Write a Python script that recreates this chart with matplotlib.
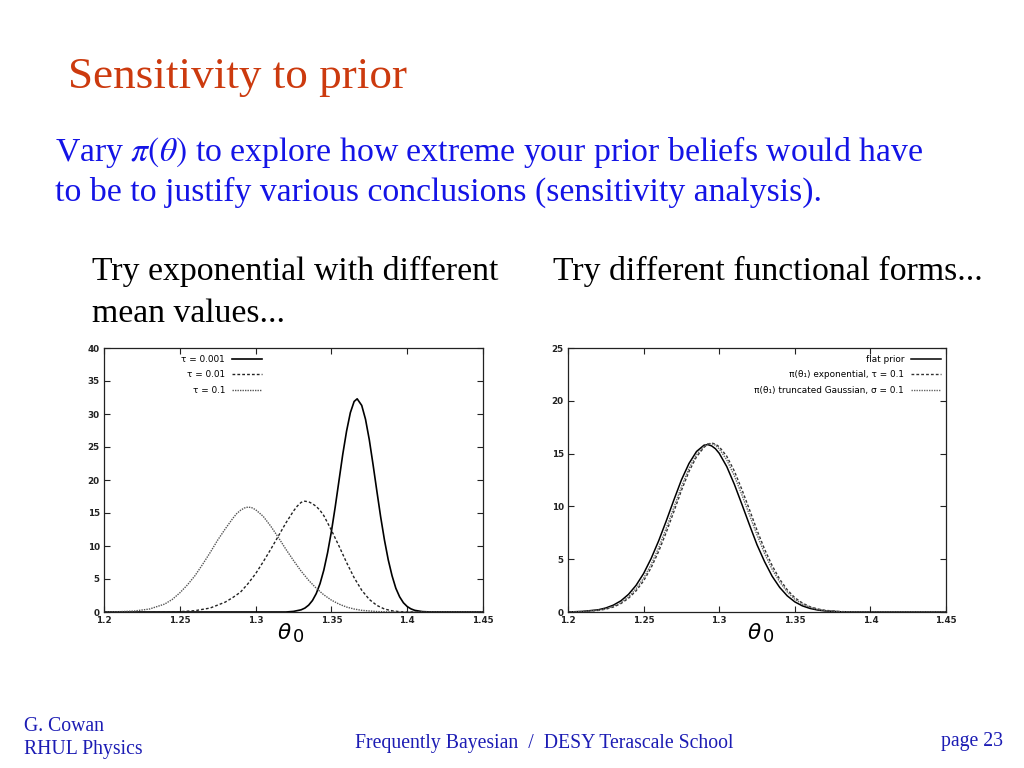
import matplotlib
matplotlib.use("Agg")
import matplotlib.pyplot as plt

# ---------------- data ----------------
# Left panel: exponential priors with different mean values
x_tau0001 = [1.20, 1.32, 1.325, 1.33, 1.3325, 1.335, 1.3375, 1.34, 1.3425, 1.345, 1.3475,
             1.35, 1.3525, 1.355, 1.3575, 1.36, 1.3625, 1.365, 1.367, 1.37, 1.3725,
             1.375, 1.3775, 1.38, 1.3825, 1.385, 1.3875, 1.39, 1.3925, 1.395, 1.3975,
             1.40, 1.4025, 1.405, 1.41, 1.415, 1.45]
y_tau0001 = [0.0, 0.0, 0.09, 0.33, 0.59, 1.04, 1.74, 2.79, 4.3, 6.35, 9.0,
             12.2, 15.9, 19.9, 23.9, 27.4, 30.2, 31.9, 32.3, 31.3, 29.2,
             26.1, 22.3, 18.3, 14.4, 10.9, 7.9, 5.5, 3.6, 2.3, 1.4,
             0.83, 0.47, 0.25, 0.06, 0.01, 0.0]

x_tau001 = [1.20, 1.24, 1.25, 1.26, 1.27, 1.28, 1.285, 1.29, 1.295, 1.30, 1.305, 1.31,
            1.315, 1.32, 1.325, 1.3275, 1.33, 1.332, 1.335, 1.3375, 1.34, 1.3425,
            1.345, 1.35, 1.355, 1.36, 1.365, 1.37, 1.375, 1.38, 1.385, 1.39, 1.395,
            1.40, 1.45]
y_tau001 = [0.0, 0.0, 0.05, 0.2, 0.6, 1.5, 2.2, 3.0, 4.3, 5.8, 7.6, 9.5,
            11.5, 13.5, 15.3, 16.05, 16.6, 16.8, 16.7, 16.4, 16.0, 15.4,
            14.6, 12.4, 10.0, 7.5, 5.2, 3.3, 1.9, 1.0, 0.45, 0.18, 0.05,
            0.0, 0.0]

x_tau01 = [1.20, 1.21, 1.22, 1.23, 1.24, 1.245, 1.25, 1.255, 1.26, 1.265, 1.27, 1.275,
           1.28, 1.285, 1.2875, 1.29, 1.2925, 1.295, 1.2975, 1.30, 1.305, 1.31, 1.315,
           1.32, 1.325, 1.33, 1.335, 1.34, 1.345, 1.35, 1.355, 1.36, 1.365, 1.37,
           1.38, 1.39, 1.45]
y_tau01 = [0.0, 0.05, 0.15, 0.45, 1.2, 1.9, 2.9, 4.1, 5.5, 7.2, 9.0, 10.9,
           12.6, 14.2, 14.9, 15.4, 15.75, 15.9, 15.8, 15.5, 14.5, 13.0, 11.3,
           9.5, 7.8, 6.2, 4.8, 3.6, 2.6, 1.8, 1.2, 0.75, 0.45, 0.25,
           0.07, 0.0, 0.0]

# Right panel: different functional forms
x_forms = [1.20, 1.21, 1.22, 1.225, 1.23, 1.235, 1.24, 1.245, 1.25, 1.255,
           1.26, 1.265, 1.27, 1.275, 1.28, 1.285, 1.29, 1.2925, 1.295, 1.2975,
           1.30, 1.305, 1.31, 1.315, 1.32, 1.325, 1.33, 1.335, 1.34, 1.345,
           1.35, 1.355, 1.36, 1.365, 1.37, 1.38, 1.39, 1.40, 1.45]
y_flat = [0.0, 0.06, 0.21, 0.38, 0.65, 1.06, 1.67, 2.52, 3.64, 5.07,
          6.75, 8.63, 10.6, 12.5, 14.06, 15.2, 15.8, 15.85, 15.73, 15.46,
          15.03, 13.77, 12.1, 10.2, 8.26, 6.37, 4.77, 3.39, 2.33, 1.53,
          0.96, 0.58, 0.34, 0.19, 0.1, 0.02, 0.0, 0.0, 0.0]
y_expo = [0.0, 0.04, 0.15, 0.27, 0.47, 0.8, 1.3, 2.0, 2.95, 4.2,
          5.75, 7.55, 9.5, 11.5, 13.3, 14.7, 15.6, 15.9, 16.0, 15.9,
          15.65, 14.75, 13.35, 11.6, 9.7, 7.75, 5.95, 4.4, 3.1, 2.1,
          1.35, 0.85, 0.5, 0.29, 0.16, 0.04, 0.01, 0.0, 0.0]
y_trunc = [0.0, 0.05, 0.17, 0.31, 0.53, 0.89, 1.43, 2.2, 3.2, 4.5,
           6.1, 7.95, 9.9, 11.85, 13.6, 14.9, 15.7, 15.93, 15.95, 15.8,
           15.45, 14.4, 12.9, 11.1, 9.2, 7.3, 5.55, 4.05, 2.85, 1.9,
           1.2, 0.75, 0.44, 0.25, 0.13, 0.03, 0.0, 0.0, 0.0]

labels_left = ["τ = 0.001", "τ = 0.01", "τ = 0.1"]
labels_right = ["flat prior", "π(θ₁) exponential, τ = 0.1",
                "π(θ₁) truncated Gaussian, σ = 0.1"]
x_ticks = [1.2, 1.25, 1.3, 1.35, 1.4, 1.45]
x_ticklabels = ["1.2", "1.25", "1.3", "1.35", "1.4", "1.45"]
y_ticks_left = [0, 5, 10, 15, 20, 25, 30, 35, 40]
y_ticks_right = [0, 5, 10, 15, 20, 25]

# ---------------- figure ----------------
W, H = 1024, 768
fig = plt.figure(figsize=(W / 100, H / 100), dpi=100)
fig.patch.set_facecolor("white")

def fy(py):
    return 1 - py / H

def fx(px):
    return px / W

serif = ["Liberation Serif", "DejaVu Serif"]
title_col = "#cc3a0e"
blue = "#1414e6"
foot_blue = "#1c1cb4"

fig.text(fx(68), fy(88), "Sensitivity to prior", family=serif, fontsize=32.5,
         color=title_col, va="baseline", ha="left")
fig.text(fx(55), fy(161), "Vary $\\pi(\\theta)$ to explore how extreme your prior beliefs would have",
         family=serif, fontsize=24.3, color=blue, va="baseline", ha="left",
         math_fontfamily="stix")
fig.text(fx(55), fy(201), "to be to justify various conclusions (sensitivity analysis).",
         family=serif, fontsize=24.3, color=blue, va="baseline", ha="left")
fig.text(fx(92), fy(280), "Try exponential with different", family=serif, fontsize=24.3,
         color="black", va="baseline", ha="left")
fig.text(fx(92), fy(322), "mean values...", family=serif, fontsize=24.3,
         color="black", va="baseline", ha="left")
fig.text(fx(553), fy(280), "Try different functional forms...", family=serif, fontsize=24.3,
         color="black", va="baseline", ha="left")

fig.text(fx(24), fy(731), "G. Cowan", family=serif, fontsize=14.2, color=foot_blue,
         va="baseline", ha="left")
fig.text(fx(24), fy(754), "RHUL Physics", family=serif, fontsize=14.2, color=foot_blue,
         va="baseline", ha="left")
fig.text(fx(544), fy(748), "Frequently Bayesian  /  DESY Terascale School", family=serif,
         fontsize=14.2, color=foot_blue, va="baseline", ha="center")
fig.text(fx(1003), fy(746), "page 23", family=serif, fontsize=14.2, color=foot_blue,
         va="baseline", ha="right")

def style_axes(ax, yticks, ymax):
    ax.set_xlim(1.2, 1.45)
    ax.set_ylim(0, ymax)
    ax.set_xticks(x_ticks)
    ax.set_xticklabels(x_ticklabels)
    ax.set_yticks(yticks)
    ax.set_yticklabels([str(t) for t in yticks])
    ax.tick_params(direction="in", length=4, width=0.8, top=True, right=True,
                   labelsize=6.3, pad=3, colors="#222222")
    for lab in ax.get_xticklabels() + ax.get_yticklabels():
        lab.set_fontweight("bold")
    for s in ax.spines.values():
        s.set_linewidth(0.9)
        s.set_color("#222222")

ax1 = fig.add_axes([104 / W, (H - 612) / H, 379 / W, 264 / H])
ax1.plot(x_tau0001, y_tau0001, color="black", lw=1.2, ls="-", label=labels_left[0])
ax1.plot(x_tau001, y_tau001, color="#222222", lw=1.0, ls=(0, (2, 1.5)), label=labels_left[1])
ax1.plot(x_tau01, y_tau01, color="#555555", lw=1.0, ls=(0, (1, 0.8)), label=labels_left[2])
style_axes(ax1, y_ticks_left, 40)
ax1.legend(loc="upper right", bbox_to_anchor=(0.43, 0.995), markerfirst=False,
           frameon=False, fontsize=6.4, handlelength=3.3, handletextpad=0.8,
           labelspacing=0.75, borderaxespad=0.2)

ax2 = fig.add_axes([568 / W, (H - 612) / H, 378 / W, 264 / H])
ax2.plot(x_forms, y_flat, color="black", lw=1.1, ls="-", label=labels_right[0])
ax2.plot(x_forms, y_expo, color="#333333", lw=1.0, ls=(0, (2, 1.5)), label=labels_right[1])
ax2.plot(x_forms, y_trunc, color="#666666", lw=1.0, ls=(0, (1, 0.8)), label=labels_right[2])
style_axes(ax2, y_ticks_right, 25)
ax2.legend(loc="upper right", bbox_to_anchor=(1.0, 0.995), markerfirst=False,
           frameon=False, fontsize=6.4, handlelength=3.3, handletextpad=0.8,
           labelspacing=0.75, borderaxespad=0.2)

# theta_0 axis labels
for px in (278, 748):
    fig.text(fx(px), fy(639), "θ", family=["DejaVu Sans"], style="italic", fontsize=15.5,
             color="black", va="baseline", ha="left")
    fig.text(fx(px + 15), fy(642), "0", family=["DejaVu Sans"], fontsize=13,
             color="black", va="baseline", ha="left")

fig.savefig("out.png", dpi=100, facecolor="white")
